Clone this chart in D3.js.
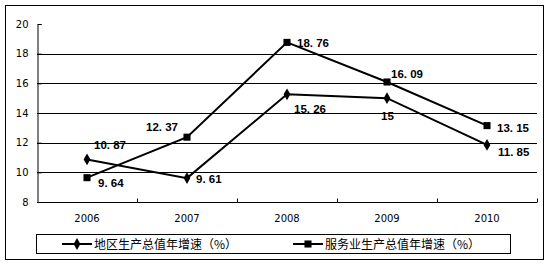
<!DOCTYPE html>
<html>
<head>
<meta charset="utf-8">
<script src="https://cdn.jsdelivr.net/npm/d3@7"></script>
<style>
  body { margin: 0; background: #fff; }
  svg { display: block; }
</style>
</head>
<body>
<div id="chart"></div>
<script>
const years = ["2006", "2007", "2008", "2009", "2010"];
const regionGrowth = [10.87, 9.61, 15.26, 15, 11.85];
const serviceGrowth = [9.64, 12.37, 18.76, 16.09, 13.15];
const yTicks = [8, 10, 12, 14, 16, 18, 20];
const seriesNames = ["地区生产总值年增速（%）", "服务业生产总值年增速（%）"];

const width = 553, height = 265;
const margin = { top: 24, right: 16, bottom: 63, left: 37 };

const svg = d3.select("#chart").append("svg")
  .attr("width", width)
  .attr("height", height);

// outer frame
svg.append("rect")
  .attr("x", 5.5).attr("y", 5.5)
  .attr("width", 538).attr("height", 254)
  .attr("fill", "none").attr("stroke", "#000").attr("stroke-width", 1);

const x = d3.scaleBand()
  .domain(years)
  .range([margin.left, width - margin.right]);

const y = d3.scaleLinear()
  .domain([8, 20])
  .range([height - margin.bottom, margin.top]);

const tickFont = "Verdana, 'DejaVu Sans', sans-serif";

// gridlines
svg.append("g")
  .selectAll("line")
  .data(yTicks.filter(d => d > 8 && d < 20))
  .enter().append("line")
  .attr("x1", margin.left).attr("x2", width - margin.right)
  .attr("y1", d => Math.round(y(d)) + 0.5).attr("y2", d => Math.round(y(d)) + 0.5)
  .attr("stroke", "#000").attr("stroke-width", 1);

// y axis
const yAxis = svg.append("g")
  .attr("transform", `translate(${margin.left + 0.5},0)`)
  .call(d3.axisLeft(y).tickValues(yTicks).tickSize(-4).tickPadding(9));
yAxis.select(".domain").attr("stroke", "#000");
yAxis.selectAll("text").attr("font-family", tickFont).attr("font-size", "10px").attr("fill", "#000");

// x axis with ticks at band boundaries
const xAxisG = svg.append("g")
  .attr("transform", `translate(0,${Math.round(y(8)) + 0.5})`);
xAxisG.append("line")
  .attr("x1", margin.left).attr("x2", width - margin.right)
  .attr("stroke", "#000");
xAxisG.selectAll(".bt")
  .data(years)
  .enter().append("line")
  .attr("x1", (d, i) => Math.round(x(years[0]) + x.step() * (i + 1)) + 0.5)
  .attr("x2", (d, i) => Math.round(x(years[0]) + x.step() * (i + 1)) + 0.5)
  .attr("y1", 0).attr("y2", -4)
  .attr("stroke", "#000");
xAxisG.selectAll("text")
  .data(years)
  .enter().append("text")
  .attr("x", d => x(d) + x.bandwidth() / 2)
  .attr("y", 19)
  .attr("text-anchor", "middle")
  .attr("font-family", tickFont).attr("font-size", "10px")
  .text(d => d);

const line = d3.line()
  .x((d, i) => x(years[i]) + x.bandwidth() / 2)
  .y(d => y(d));

const diamond = d3.symbol().type(d3.symbolDiamond).size(40);
const square = d3.symbol().type(d3.symbolSquare).size(50);

function drawSeries(values, sym) {
  svg.append("path")
    .datum(values)
    .attr("d", line)
    .attr("fill", "none").attr("stroke", "#000").attr("stroke-width", 2);
  svg.append("g").selectAll("path")
    .data(values)
    .enter().append("path")
    .attr("d", sym)
    .attr("transform", (d, i) => `translate(${x(years[i]) + x.bandwidth() / 2},${y(d)})`)
    .attr("fill", "#000");
}
drawSeries(regionGrowth, diamond);
drawSeries(serviceGrowth, square);

// data labels: offsets relative to the point
const regionOffsets = [[7, -14], [9, 1], [7, 15], [-6, 18], [11, 7]];
const serviceOffsets = [[11, 5], [-41, -10], [10, 1], [4, -8], [10, 2]];

function drawLabels(values, offsets) {
  svg.append("g").selectAll("text")
    .data(values)
    .enter().append("text")
    .attr("x", (d, i) => x(years[i]) + x.bandwidth() / 2 + offsets[i][0])
    .attr("y", (d, i) => y(d) + offsets[i][1])
    .attr("dy", "0.35em")
    .attr("font-family", "'Liberation Sans', Arial, sans-serif")
    .attr("font-weight", "bold")
    .attr("font-size", "11.5px")
    .attr("fill", "#000")
    .style("white-space", "pre")
    .text(d => String(d).replace(".", ". "));
}
drawLabels(regionGrowth, regionOffsets);
drawLabels(serviceGrowth, serviceOffsets);

// legend
const legend = svg.append("g");
legend.append("rect")
  .attr("x", 36.5).attr("y", 234.5)
  .attr("width", 474).attr("height", 19)
  .attr("fill", "none").attr("stroke", "#000");

const legendItems = [
  { name: seriesNames[0], sym: diamond, x0: 62 },
  { name: seriesNames[1], sym: square, x0: 293 }
];
legendItems.forEach(item => {
  const cy = 244;
  legend.append("line")
    .attr("x1", item.x0).attr("x2", item.x0 + 30)
    .attr("y1", cy).attr("y2", cy)
    .attr("stroke", "#000").attr("stroke-width", 2);
  legend.append("path")
    .attr("d", item.sym)
    .attr("transform", `translate(${item.x0 + 15},${cy})`)
    .attr("fill", "#000");
  legend.append("text")
    .attr("x", item.x0 + 32)
    .attr("y", cy)
    .attr("dy", "0.38em")
    .attr("font-family", "'Noto Sans CJK SC', sans-serif")
    .attr("font-size", "12px")
    .text(item.name);
});
</script>
</body>
</html>
